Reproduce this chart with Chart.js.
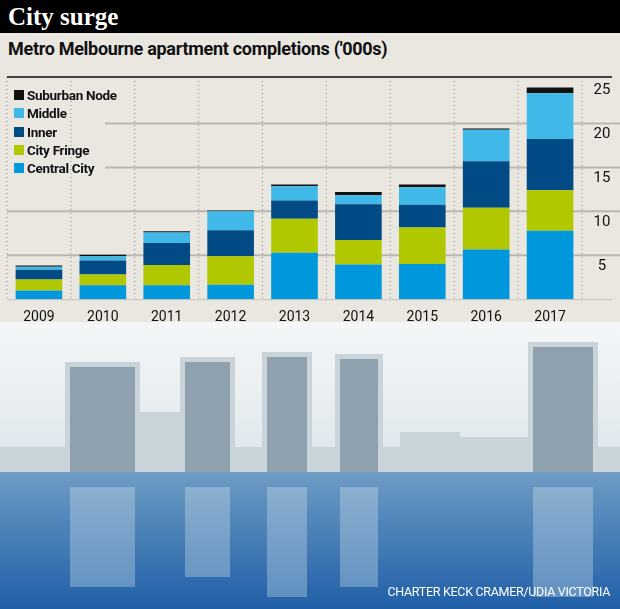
<!DOCTYPE html>
<html><head><meta charset="utf-8">
<script src="https://cdn.jsdelivr.net/npm/chart.js@4"></script>
<style>
body{margin:0;background:#e9e7e0;font-family:"Roboto",sans-serif;}
#wrap{position:relative;width:620px;height:609px;overflow:hidden;background:#e9e7e0}
#title{position:absolute;left:0;top:0;width:620px;height:33px;background:#000;color:#fff;font:bold 25px "Liberation Serif",serif;line-height:33px;padding-left:8px;box-sizing:border-box}
#sub{position:absolute;left:8px;top:38px;font:bold 18px "Roboto",sans-serif;color:#111;letter-spacing:-0.3px}
#cw{position:absolute;left:0;top:70px;width:620px;height:258px}
#legend{position:absolute;left:14px;top:86px;font:bold 13.5px "Roboto",sans-serif;color:#111;letter-spacing:-0.3px}
#legend div{height:18.3px;display:flex;align-items:center}
#legend span{display:inline-block;width:10px;height:10px;margin-right:3px}
#photo{position:absolute;left:0;top:322px;width:620px;height:287px}
#src{position:absolute;right:10px;bottom:10px;color:#fff;font:12.5px "Roboto",sans-serif;letter-spacing:-0.3px}
</style></head><body>
<div id="wrap">
<div id="title">City surge</div>
<div id="sub">Metro Melbourne apartment completions ('000s)</div>
<canvas id="photo" width="620" height="287"></canvas>
<div id="cw"><canvas id="c"></canvas></div>
<div id="legend"></div>
<div id="src">CHARTER KECK CRAMER/UDIA VICTORIA</div>
</div>
<script>
const years=['2009','2010','2011','2012','2013','2014','2015','2016','2017'];
const centralCity=[1.0,1.6,1.6,1.65,5.3,3.95,4.0,5.65,7.8];
const cityFringe=[1.25,1.2,2.3,3.25,3.85,2.8,4.15,4.75,4.6];
const inner=[1.1,1.6,2.5,2.95,2.1,4.05,2.6,5.3,5.85];
const middle=[0.35,0.5,1.2,2.15,1.6,1.05,2.0,3.6,5.2];
const suburbanNode=[0.15,0.15,0.15,0.1,0.2,0.35,0.3,0.15,0.65];
const yTicks=[5,10,15,20,25];
const series=[
 ['Central City',centralCity,'#0097dc'],
 ['City Fringe',cityFringe,'#b1c800'],
 ['Inner',inner,'#004a85'],
 ['Middle',middle,'#40b8e8'],
 ['Suburban Node',suburbanNode,'#111111']];
document.getElementById('legend').innerHTML=series.slice().reverse().map(s=>`<div><span style="background:${s[2]}"></span>${s[0]}</div>`).join('');

(function(){const p=document.getElementById('photo').getContext('2d');
let g=p.createLinearGradient(0,0,0,150);g.addColorStop(0,'#f4f6f7');g.addColorStop(1,'#dde6ec');
p.fillStyle=g;p.fillRect(0,0,620,150);
p.fillStyle='#c9d3da';
[[65,40,75,120],[180,35,55,125],[262,30,50,130],[335,32,48,128],[528,20,70,140],[140,90,40,70],[400,110,60,50],[450,115,140,45],[0,125,620,30]].forEach(r=>p.fillRect(...r));
p.fillStyle='#8fa1ae';[[70,45,65,110],[185,40,45,115],[267,35,40,120],[340,37,38,118],[533,25,60,130]].forEach(r=>p.fillRect(...r));
g=p.createLinearGradient(0,150,0,287);g.addColorStop(0,'#6e9cc4');g.addColorStop(1,'#1f5fa8');
p.fillStyle=g;p.fillRect(0,150,620,137);
p.fillStyle='rgba(210,225,235,0.35)';[[70,165,65,100],[185,165,45,90],[267,165,40,110],[340,165,38,100],[533,165,60,110]].forEach(r=>p.fillRect(...r));
})();

const gridPlugin={id:'grid',beforeDatasetsDraw(ch){
 const {ctx,chartArea:a,scales:{x,y}}=ch;ctx.save();
 ctx.strokeStyle='#b9b7b0';ctx.lineWidth=2;
 yTicks.slice(0,4).forEach(v=>{const py=y.getPixelForValue(v);ctx.beginPath();ctx.moveTo(v>=15?105:a.left,py);ctx.lineTo(620,py);ctx.stroke();});
 ctx.strokeStyle='#888';ctx.lineWidth=1;ctx.setLineDash([1,3]);
 const w=x.width/years.length;
 for(let i=0;i<=years.length;i++){const px=x.left+i*w;
  ctx.beginPath();ctx.moveTo(px,a.top);ctx.lineTo(px,a.bottom);ctx.stroke();}
 ctx.setLineDash([]);ctx.strokeStyle='#444';ctx.lineWidth=2;
 ctx.beginPath();ctx.moveTo(a.left,a.top);ctx.lineTo(612,a.top);ctx.stroke();
 ctx.strokeStyle='#c4c2bb';ctx.lineWidth=1;ctx.beginPath();ctx.moveTo(a.left,a.bottom+0.5);ctx.lineTo(612,a.bottom+0.5);ctx.stroke();
 ctx.fillStyle='#111';ctx.font='15px "Roboto",sans-serif';ctx.textAlign='center';ctx.textBaseline='middle';
 yTicks.forEach(v=>ctx.fillText(String(v),602,y.getPixelForValue(v)+11));
 ctx.restore();}};

new Chart(document.getElementById('c'),{type:'bar',
 data:{labels:years,datasets:series.map(s=>({label:s[0],data:s[1],backgroundColor:s[2],borderWidth:0,barPercentage:0.73,categoryPercentage:1}))},
 options:{responsive:true,maintainAspectRatio:false,animation:false,
  layout:{padding:{left:7,top:7,right:0,bottom:0}},
  plugins:{legend:{display:false},tooltip:{enabled:false}},
  scales:{x:{stacked:true,grid:{display:false},border:{display:false},ticks:{color:'#111',font:{size:14,family:'"Roboto",sans-serif'},padding:2}},
   y:{stacked:true,position:'right',min:0,max:25.3,grid:{display:false},border:{display:false},ticks:{display:false},afterFit(s){s.width=38;}}}},
 plugins:[gridPlugin]});
</script></body></html>
